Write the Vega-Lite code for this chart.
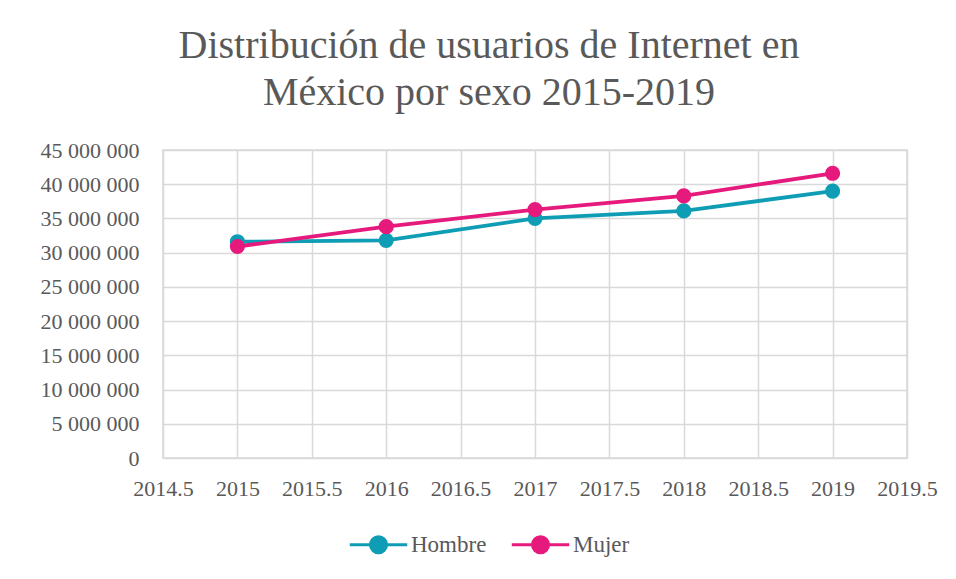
{
  "$schema": "https://vega.github.io/schema/vega-lite/v6.json",
  "width": 744,
  "height": 308,
  "autosize": "none",
  "padding": {"left": 163, "top": 150, "right": 49, "bottom": 121},
  "background": "white",
  "title": {
    "text": ["Distribución de usuarios de Internet en", "México por sexo 2015-2019"],
    "font": "Liberation Serif",
    "fontSize": 40,
    "fontWeight": "normal",
    "color": "#595959",
    "lineHeight": 47,
    "anchor": "middle",
    "dx": -46,
    "offset": 26
  },
  "config": {
    "locale": {"number": {"decimal": ",", "thousands": " ", "grouping": [3], "currency": ["", "$"]}},
    "view": {"stroke": "#d9d9d9", "strokeWidth": 1.5},
    "axis": {
      "labelFont": "Liberation Serif",
      "labelFontSize": 22,
      "labelColor": "#595959",
      "gridColor": "#d9d9d9",
      "gridWidth": 1.5,
      "domain": false,
      "ticks": false,
      "title": null
    },
    "legend": {
      "labelFont": "Liberation Serif",
      "labelFontSize": 23,
      "labelColor": "#595959"
    }
  },
  "data": {
    "values": [
      {"anio": 2015, "sexo": "Hombre", "usuarios": 31600000},
      {"anio": 2016, "sexo": "Hombre", "usuarios": 31800000},
      {"anio": 2017, "sexo": "Hombre", "usuarios": 35000000},
      {"anio": 2018, "sexo": "Hombre", "usuarios": 36100000},
      {"anio": 2019, "sexo": "Hombre", "usuarios": 39000000},
      {"anio": 2015, "sexo": "Mujer", "usuarios": 30900000},
      {"anio": 2016, "sexo": "Mujer", "usuarios": 33800000},
      {"anio": 2017, "sexo": "Mujer", "usuarios": 36300000},
      {"anio": 2018, "sexo": "Mujer", "usuarios": 38300000},
      {"anio": 2019, "sexo": "Mujer", "usuarios": 41600000}
    ]
  },
  "encoding": {
    "x": {
      "field": "anio",
      "type": "quantitative",
      "scale": {"domain": [2014.5, 2019.5], "nice": false, "zero": false},
      "axis": {
        "values": [2014.5, 2015, 2015.5, 2016, 2016.5, 2017, 2017.5, 2018, 2018.5, 2019, 2019.5],
        "labelExpr": "datum.value + ''",
        "labelPadding": 20,
        "labelFlush": false
      }
    },
    "y": {
      "field": "usuarios",
      "type": "quantitative",
      "scale": {"domain": [0, 45000000], "nice": false},
      "axis": {
        "values": [0, 5000000, 10000000, 15000000, 20000000, 25000000, 30000000, 35000000, 40000000, 45000000],
        "format": ",d",
        "labelPadding": 24
      }
    },
    "color": {
      "field": "sexo",
      "type": "nominal",
      "scale": {"domain": ["Hombre", "Mujer"], "range": ["#0E9DB5", "#E6197D"]},
      "legend": {
        "title": null,
        "orient": "none",
        "direction": "horizontal",
        "legendX": 185,
        "legendY": 364,
        "symbolType": "M-1,0L1,0M0.28,0A0.28,0.28 0 1,1 -0.28,0A0.28,0.28 0 1,1 0.28,0Z",
        "symbolSize": 3300,
        "symbolStrokeWidth": 3,
        "columnPadding": 18,
        "labelOffset": 2
      }
    }
  },
  "layer": [
    {"mark": {"type": "line", "strokeWidth": 3.8}},
    {"mark": {"type": "point", "filled": true, "size": 230, "opacity": 1}}
  ]
}
